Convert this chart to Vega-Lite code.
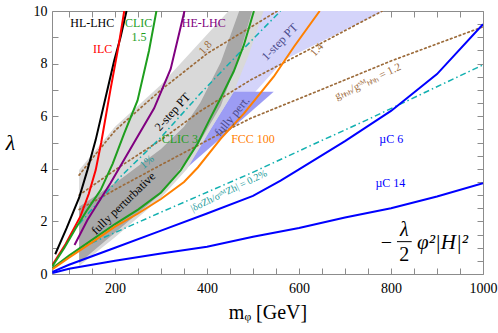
{
"$schema": "https://vega.github.io/schema/vega-lite/v6.json",
"width": 431, "height": 263,
"autosize": {"type": "none"},
"padding": {"left": 52, "top": 11, "right": 15, "bottom": 59},
"background": "white",
"config": {"view": {"stroke": "#8c8c8c", "strokeWidth": 1}, "font": "Liberation Serif", "text": {"font": "Liberation Serif"}},
"datasets": {
"polys": [
{"p":"lav","o":0,"x":355,"y":4.0},{"p":"lav","o":1,"x":430,"y":6.3},{"p":"lav","o":2,"x":480,"y":8.2},{"p":"lav","o":3,"x":505,"y":10},{"p":"lav","o":4,"x":784,"y":10},{"p":"lav","o":5,"x":567,"y":8.14},
{"p":"blue","o":0,"x":357,"y":4.05},{"p":"blue","o":1,"x":458,"y":6.93},{"p":"blue","o":2,"x":545,"y":6.93},
{"p":"lg","o":0,"x":122,"y":0.3},{"p":"lg","o":1,"x":122,"y":3.95},{"p":"lg","o":2,"x":200,"y":5.6},{"p":"lg","o":3,"x":300,"y":7.2},{"p":"lg","o":4,"x":447,"y":10},{"p":"lg","o":5,"x":523,"y":10},{"p":"lg","o":6,"x":490,"y":8.3},{"p":"lg","o":7,"x":458,"y":6.93},{"p":"lg","o":8,"x":411,"y":5.6},{"p":"lg","o":9,"x":357,"y":4.0},{"p":"lg","o":10,"x":300,"y":2.9},{"p":"lg","o":11,"x":200,"y":1.4},
{"p":"dg","o":0,"x":122,"y":0.42},{"p":"dg","o":1,"x":122,"y":2.56},{"p":"dg","o":2,"x":212,"y":3.6},{"p":"dg","o":3,"x":300,"y":4.75},{"p":"dg","o":4,"x":350,"y":5.6},{"p":"dg","o":5,"x":385,"y":6.5},{"p":"dg","o":6,"x":430,"y":8.05},{"p":"dg","o":7,"x":470,"y":10},{"p":"dg","o":8,"x":498,"y":10},{"p":"dg","o":9,"x":470,"y":8.3},{"p":"dg","o":10,"x":430,"y":6.4},{"p":"dg","o":11,"x":380,"y":4.9},{"p":"dg","o":12,"x":300,"y":3.05},{"p":"dg","o":13,"x":212,"y":1.75}
],
"solid": [
{"c":"HL-LHC","x":70,"y":0.75},{"c":"HL-LHC","x":95,"y":1.75},{"c":"HL-LHC","x":122,"y":2.9},{"c":"HL-LHC","x":140,"y":3.95},{"c":"HL-LHC","x":158,"y":5.1},{"c":"HL-LHC","x":178,"y":6.6},{"c":"HL-LHC","x":198,"y":8.1},{"c":"HL-LHC","x":212,"y":9.0},{"c":"HL-LHC","x":225,"y":10},
{"c":"ILC","x":64,"y":0.35},{"c":"ILC","x":93,"y":1.15},{"c":"ILC","x":125,"y":2.2},{"c":"ILC","x":143,"y":3.05},{"c":"ILC","x":158,"y":3.95},{"c":"ILC","x":170,"y":5.0},{"c":"ILC","x":190,"y":7.0},{"c":"ILC","x":208,"y":8.7},{"c":"ILC","x":220,"y":10},
{"c":"CLIC 1.5","x":64,"y":0.3},{"c":"CLIC 1.5","x":90,"y":1.0},{"c":"CLIC 1.5","x":115,"y":1.75},{"c":"CLIC 1.5","x":140,"y":2.45},{"c":"CLIC 1.5","x":169,"y":3.2},{"c":"CLIC 1.5","x":195,"y":4.2},{"c":"CLIC 1.5","x":220,"y":5.35},{"c":"CLIC 1.5","x":249,"y":6.6},{"c":"CLIC 1.5","x":274,"y":8.5},{"c":"CLIC 1.5","x":290,"y":10},
{"c":"HE-LHC","x":112,"y":1.1},{"c":"HE-LHC","x":140,"y":2.05},{"c":"HE-LHC","x":190,"y":3.45},{"c":"HE-LHC","x":245,"y":5.1},{"c":"HE-LHC","x":285,"y":6.3},{"c":"HE-LHC","x":321,"y":7.8},{"c":"HE-LHC","x":351,"y":10},
{"c":"CLIC 3","x":64,"y":0.22},{"c":"CLIC 3","x":100,"y":0.7},{"c":"CLIC 3","x":150,"y":1.3},{"c":"CLIC 3","x":200,"y":1.9},{"c":"CLIC 3","x":250,"y":2.45},{"c":"CLIC 3","x":300,"y":3.1},{"c":"CLIC 3","x":343,"y":3.95},{"c":"CLIC 3","x":380,"y":4.97},{"c":"CLIC 3","x":405,"y":5.85},{"c":"CLIC 3","x":430,"y":6.7},{"c":"CLIC 3","x":458,"y":7.7},{"c":"CLIC 3","x":480,"y":8.7},{"c":"CLIC 3","x":502,"y":10},
{"c":"FCC 100","x":64,"y":0.18},{"c":"FCC 100","x":100,"y":0.62},{"c":"FCC 100","x":150,"y":1.2},{"c":"FCC 100","x":200,"y":1.8},{"c":"FCC 100","x":250,"y":2.3},{"c":"FCC 100","x":300,"y":2.85},{"c":"FCC 100","x":350,"y":3.5},{"c":"FCC 100","x":380,"y":4.05},{"c":"FCC 100","x":430,"y":5.15},{"c":"FCC 100","x":480,"y":6.1},{"c":"FCC 100","x":545,"y":7.5},{"c":"FCC 100","x":589,"y":8.64},{"c":"FCC 100","x":645,"y":10},
{"c":"µC 6","x":64,"y":0.08},{"c":"µC 6","x":100,"y":0.35},{"c":"µC 6","x":200,"y":1.0},{"c":"µC 6","x":300,"y":1.65},{"c":"µC 6","x":400,"y":2.3},{"c":"µC 6","x":500,"y":2.97},{"c":"µC 6","x":560,"y":3.55},{"c":"µC 6","x":600,"y":3.98},{"c":"µC 6","x":700,"y":5.05},{"c":"µC 6","x":800,"y":6.2},{"c":"µC 6","x":900,"y":7.6},{"c":"µC 6","x":1000,"y":9.5},
{"c":"µC 14","x":64,"y":0.04},{"c":"µC 14","x":100,"y":0.2},{"c":"µC 14","x":200,"y":0.5},{"c":"µC 14","x":300,"y":0.78},{"c":"µC 14","x":400,"y":1.04},{"c":"µC 14","x":500,"y":1.42},{"c":"µC 14","x":600,"y":1.75},{"c":"µC 14","x":700,"y":2.15},{"c":"µC 14","x":800,"y":2.5},{"c":"µC 14","x":900,"y":2.95},{"c":"µC 14","x":1000,"y":3.45}
],
"dotted": [
{"c":"1.2","x":122,"y":2.45},{"c":"1.2","x":212,"y":3.32},{"c":"1.2","x":300,"y":4.15},{"c":"1.2","x":430,"y":5.35},{"c":"1.2","x":495,"y":5.92},{"c":"1.2","x":647,"y":7.0},{"c":"1.2","x":800,"y":8.1},{"c":"1.2","x":1000,"y":9.4},
{"c":"1.4","x":122,"y":3.0},{"c":"1.4","x":212,"y":4.1},{"c":"1.4","x":300,"y":5.1},{"c":"1.4","x":386,"y":6.2},{"c":"1.4","x":495,"y":7.38},{"c":"1.4","x":640,"y":8.7},{"c":"1.4","x":781,"y":10},
{"c":"1.8","x":122,"y":3.76},{"c":"1.8","x":160,"y":4.6},{"c":"1.8","x":201,"y":5.47},{"c":"1.8","x":300,"y":7.0},{"c":"1.8","x":401,"y":8.39},{"c":"1.8","x":553,"y":10}
],
"dashdot": [
{"c":"0.2","x":122,"y":0.97},{"c":"0.2","x":300,"y":2.35},{"c":"0.2","x":495,"y":3.83},{"c":"0.2","x":640,"y":5.0},{"c":"0.2","x":748,"y":5.86},{"c":"0.2","x":1000,"y":7.95},
{"c":"1","x":122,"y":1.9},{"c":"1","x":212,"y":3.7},{"c":"1","x":300,"y":5.2},{"c":"1","x":386,"y":6.87},{"c":"1","x":470,"y":8.4},{"c":"1","x":560,"y":10}
]
},
"encoding": {
"x": {"field": "x", "type": "quantitative", "scale": {"domain": [63, 1000], "nice": false, "zero": false}, "axis": null},
"y": {"field": "y", "type": "quantitative", "scale": {"domain": [0, 10], "nice": false, "zero": false}, "axis": null}
},
"layer": [
{"data": {"name": "polys"}, "transform": [{"filter": "datum.p === 'lav'"}],
 "mark": {"type": "line", "fill": "#d4d4fa", "stroke": "transparent", "strokeWidth": 0, "clip": true},
 "encoding": {"order": {"field": "o", "type": "quantitative"}}},
{"data": {"name": "polys"}, "transform": [{"filter": "datum.p === 'blue'"}],
 "mark": {"type": "line", "fill": "#9c9cf4", "stroke": "transparent", "strokeWidth": 0, "clip": true},
 "encoding": {"order": {"field": "o", "type": "quantitative"}}},
{"data": {"name": "polys"}, "transform": [{"filter": "datum.p === 'lg'"}],
 "mark": {"type": "line", "fill": "#d9d9d9", "stroke": "transparent", "strokeWidth": 0, "clip": true},
 "encoding": {"order": {"field": "o", "type": "quantitative"},
  "x": {"field": "x", "type": "quantitative", "scale": {"domain": [63, 1000], "nice": false, "zero": false},
   "axis": {"orient": "bottom", "values": [100,150,200,250,300,350,400,450,500,550,600,650,700,750,800,850,900,950,1000],
    "format": "d", "labelExpr": "datum.value % 200 === 0 ? datum.label : ''", "labelFlush": false, "labelOverlap": false,
    "grid": false, "domain": false, "ticks": true, "tickSize": -6, "tickColor": "#8c8c8c", "tickWidth": 1,
    "encode": {"ticks": {"update": {"y2": {"signal": "datum.value % 200 === 0 ? -7 : -4"}}}},
    "labelPadding": 13, "labelFontSize": 14, "labelFont": "Liberation Serif", "labelColor": "#000",
    "title": "mᵩ  [GeV]", "titleFont": "Liberation Serif", "titleFontSize": 20, "titleFontWeight": "normal", "titleColor": "#000", "titlePadding": 7}},
  "y": {"field": "y", "type": "quantitative", "scale": {"domain": [0, 10], "nice": false, "zero": false},
   "axis": {"orient": "left", "values": [0,0.5,1,1.5,2,2.5,3,3.5,4,4.5,5,5.5,6,6.5,7,7.5,8,8.5,9,9.5,10],
    "format": "d", "labelExpr": "datum.value % 2 === 0 ? datum.label : ''", "labelFlush": false, "labelOverlap": false,
    "grid": false, "domain": false, "ticks": true, "tickSize": -6, "tickColor": "#8c8c8c", "tickWidth": 1,
    "encode": {"ticks": {"update": {"x2": {"signal": "datum.value % 2 === 0 ? 7 : 4"}}}},
    "labelPadding": 11, "labelFontSize": 14, "labelFont": "Liberation Serif", "labelColor": "#000",
    "title": "λ", "titleFont": "Liberation Serif", "titleFontSize": 22, "titleFontStyle": "italic", "titleFontWeight": "normal", "titleColor": "#000",
    "titleAngle": 0, "titleX": -42, "titleY": 131, "titleAlign": "center", "titleBaseline": "middle"}}}},
{"data": {"name": "polys"}, "transform": [{"filter": "datum.p === 'dg'"}],
 "mark": {"type": "line", "fill": "#a8a8a8", "stroke": "transparent", "strokeWidth": 0, "clip": true},
 "encoding": {"order": {"field": "o", "type": "quantitative"},
  "x": {"field": "x", "type": "quantitative", "scale": {"domain": [63, 1000], "nice": false, "zero": false},
   "axis": {"orient": "top", "values": [100,150,200,250,300,350,400,450,500,550,600,650,700,750,800,850,900,950,1000],
    "labels": false, "grid": false, "domain": false, "ticks": true, "tickSize": -6, "tickColor": "#8c8c8c", "tickWidth": 1, "title": null,
    "encode": {"ticks": {"update": {"y2": {"signal": "datum.value % 200 === 0 ? 7 : 4"}}}}}},
  "y": {"field": "y", "type": "quantitative", "scale": {"domain": [0, 10], "nice": false, "zero": false},
   "axis": {"orient": "right", "values": [0,0.5,1,1.5,2,2.5,3,3.5,4,4.5,5,5.5,6,6.5,7,7.5,8,8.5,9,9.5,10],
    "labels": false, "grid": false, "domain": false, "ticks": true, "tickSize": -6, "tickColor": "#8c8c8c", "tickWidth": 1, "title": null,
    "encode": {"ticks": {"update": {"x2": {"signal": "datum.value % 2 === 0 ? -7 : -4"}}}}}}}},
{"data": {"name": "dotted"},
 "mark": {"type": "line", "color": "#9c6b3a", "strokeWidth": 1.7, "strokeDash": [1.6, 3], "strokeCap": "round", "clip": true},
 "encoding": {"detail": {"field": "c"}}},
{"data": {"name": "dashdot"},
 "mark": {"type": "line", "color": "#12b0b0", "strokeWidth": 1.5, "strokeDash": [6, 3, 1.5, 3], "clip": true},
 "encoding": {"detail": {"field": "c"}}},
{"data": {"name": "solid"},
 "mark": {"type": "line", "strokeWidth": 2, "clip": true},
 "encoding": {"color": {"field": "c", "type": "nominal", "legend": null,
  "scale": {"domain": ["HL-LHC","ILC","CLIC 1.5","HE-LHC","CLIC 3","FCC 100","µC 6","µC 14"],
   "range": ["#000000","#ff0000","#1e9e1e","#800080","#1e9e1e","#ff8000","#0000ff","#0000ff"]}}}},
{"data": {"values": [{"t":"HL-LHC","x":150.5,"y":9.54}]}, "mark": {"type":"text","fontSize":12,"color":"#000"}, "encoding": {"text": {"field":"t"}}},
{"data": {"values": [{"t":"ILC","x":173,"y":8.54}]}, "mark": {"type":"text","fontSize":12,"color":"#ff0000"}, "encoding": {"text": {"field":"t"}}},
{"data": {"values": [{"t":"CLIC","x":251.5,"y":9.53},{"t":"1.5","x":252,"y":9.0}]}, "mark": {"type":"text","fontSize":12,"color":"#1e9e1e"}, "encoding": {"text": {"field":"t"}}},
{"data": {"values": [{"t":"HE-LHC","x":393,"y":9.53}]}, "mark": {"type":"text","fontSize":12,"color":"#800080"}, "encoding": {"text": {"field":"t"}}},
{"data": {"values": [{"t":"1.8","x":397,"y":8.6},{"t":"1.4","x":639.5,"y":8.52}]}, "mark": {"type":"text","fontSize":11,"color":"#9c6b3a","angle":312}, "encoding": {"text": {"field":"t"}}},
{"data": {"values": [{"t":"gₕₕₕ/gˢᴹₕₕₕ = 1.2","x":750,"y":7.31}]}, "mark": {"type":"text","fontSize":11,"color":"#9c6b3a","angle":335}, "encoding": {"text": {"field":"t"}}},
{"data": {"values": [{"t":"1-step PT","x":557.8,"y":8.83}]}, "mark": {"type":"text","fontSize":12,"color":"#4b4b8c","angle":314}, "encoding": {"text": {"field":"t"}}},
{"data": {"values": [{"t":"fully pert.","x":454,"y":6.0}]}, "mark": {"type":"text","fontSize":12,"color":"#4b4b8c","angle":310}, "encoding": {"text": {"field":"t"}}},
{"data": {"values": [{"t":"2-step PT","x":324.6,"y":6.17}]}, "mark": {"type":"text","fontSize":12,"color":"#000","angle":312}, "encoding": {"text": {"field":"t"}}},
{"data": {"values": [{"t":"fully perturbative","x":217.8,"y":2.69}]}, "mark": {"type":"text","fontSize":12,"color":"#000","angle":316}, "encoding": {"text": {"field":"t"}}},
{"data": {"values": [{"t":"CLIC 3","x":341,"y":5.14}]}, "mark": {"type":"text","fontSize":12,"color":"#1e9e1e"}, "encoding": {"text": {"field":"t"}}},
{"data": {"values": [{"t":"FCC 100","x":500,"y":5.14}]}, "mark": {"type":"text","fontSize":12,"color":"#ff8000"}, "encoding": {"text": {"field":"t"}}},
{"data": {"values": [{"t":"1%","x":270,"y":4.25}]}, "mark": {"type":"text","fontSize":11,"color":"#1a9a9a","angle":320}, "encoding": {"text": {"field":"t"}}},
{"data": {"values": [{"t":"|δσZh/σˢᴹZh| = 0.2%","x":447.6,"y":3.16}]}, "mark": {"type":"text","fontSize":10,"color":"#1a9a9a","angle":334}, "encoding": {"text": {"field":"t"}}},
{"data": {"values": [{"t":"µC 6","x":800.5,"y":5.12},{"t":"µC 14","x":798.7,"y":3.45}]}, "mark": {"type":"text","fontSize":12,"color":"#0000ff"}, "encoding": {"text": {"field":"t"}}},
{"data": {"values": [{"t":"−","x":790,"y":1.17}]}, "mark": {"type":"text","fontSize":20,"color":"#000"}, "encoding": {"text": {"field":"t"}}},
{"data": {"values": [{"t":"λ","x":829,"y":1.67}]}, "mark": {"type":"text","fontSize":20,"fontStyle":"italic","color":"#000"}, "encoding": {"text": {"field":"t"}}},
{"data": {"values": [{"t":"2","x":829,"y":0.72}]}, "mark": {"type":"text","fontSize":20,"color":"#000"}, "encoding": {"text": {"field":"t"}}},
{"data": {"values": [{"x":813,"x2":845,"y":1.23}]}, "mark": {"type":"rule","color":"#000","strokeWidth":1}, "encoding": {"x2": {"field":"x2"}}},
{"data": {"values": [{"t":"φ²|H|²","x":912,"y":1.17}]}, "mark": {"type":"text","fontSize":21,"fontStyle":"italic","color":"#000"}, "encoding": {"text": {"field":"t"}}}
],
"resolve": {"axis": {"x": "independent", "y": "independent"}}
}
